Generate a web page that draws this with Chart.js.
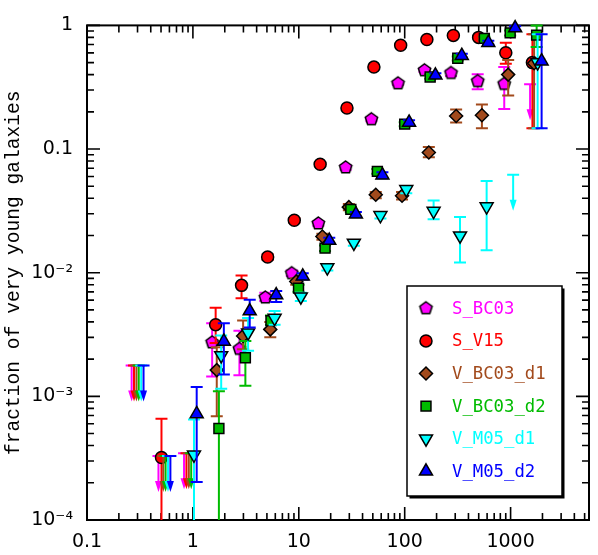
<!DOCTYPE html>
<html>
<head>
<meta charset="utf-8">
<script src="https://cdn.jsdelivr.net/npm/chart.js@4.4.1/dist/chart.umd.min.js"></script>
<style>
  html, body { margin: 0; padding: 0; background: #fff; }
  #wrap { width: 598px; height: 555px; }
</style>
</head>
<body>
<div id="wrap"><canvas id="chart" width="598" height="555"></canvas></div>
<script>
// Axis ticks
const xTickValues = [0.1, 1, 10, 100, 1000];
const xTickLabels = ['0.1', '1', '10', '100', '1000'];
const yTickValues = [1e-4, 1e-3, 1e-2, 0.1, 1];
const yTickLabels = ['10\u207B\u2074', '10\u207B\u00B3', '10\u207B\u00B2', '0.1', '1'];

const seriesNames = ['S_BC03', 'S_V15', 'V_BC03_d1', 'V_BC03_d2', 'V_M05_d1', 'V_M05_d2'];
const seriesColors = ['#ff00ff', '#ff0000', '#a24a1c', '#00bb00', '#00ffff', '#0000ff'];

// rows: [x, fraction, lower, upper]  (lower 0 = bar runs off the bottom)
const sBC03 = [
    [1.52, 2.73e-3, 1.45e-3, 3.9e-3], [2.75, 2.42e-3, 1.48e-3, 3.4e-3], [4.83, 6.3e-3, 5.9e-3, 6.9e-3],
    [8.59, 9.9e-3, 9.4e-3, 1.04e-2], [15.3, 0.025, 0.024, 0.026], [27.7, 0.071, 0.068, 0.074],
    [48.5, 0.174, 0.168, 0.18], [86.5, 0.34, 0.33, 0.35], [154, 0.433, 0.42, 0.45],
    [274, 0.412, 0.39, 0.43], [489, 0.354, 0.304, 0.403], [871, 0.336, 0.211, 0.46]
];
const sV15 = [
    [0.505, 3.2e-4, 0, 6.6e-4], [1.64, 3.8e-3, 2.7e-3, 5.2e-3], [2.88, 7.9e-3, 6.2e-3, 9.5e-3],
    [5.08, 0.0134, 0.0127, 0.0141], [9.06, 0.0266, 0.0255, 0.0277], [15.9, 0.0754, 0.073, 0.078],
    [28.5, 0.215, 0.21, 0.22], [51.2, 0.46, 0.45, 0.47], [91.6, 0.69, 0.68, 0.70],
    [162, 0.77, 0.76, 0.78], [288, 0.83, 0.82, 0.84], [499, 0.80, 0.78, 0.82],
    [901, 0.60, 0.49, 0.725], [1607, 0.50, 0.147, 0.85]
];
const vBC03d1 = [
    [1.68, 1.63e-3, 6.9e-4, 2.5e-3], [2.98, 3.08e-3, 2.4e-3, 4.1e-3], [5.38, 3.48e-3, 3.0e-3, 4.0e-3],
    [9.46, 8.5e-3, 8.0e-3, 9.0e-3], [16.7, 0.0196, 0.0185, 0.0207], [29.7, 0.0339, 0.032, 0.036],
    [53.3, 0.0427, 0.040, 0.045], [94.4, 0.0419, 0.039, 0.045], [169, 0.0938, 0.086, 0.104],
    [306, 0.185, 0.164, 0.209], [536, 0.1875, 0.147, 0.229], [949, 0.40, 0.271, 0.526],
    [1667, 0.494, 0.147, 0.85]
];
const vBC03d2 = [
    [1.76, 5.5e-4, 0, 1.1e-3], [3.13, 2.05e-3, 1.22e-3, 2.8e-3], [5.46, 4.1e-3, 3.8e-3, 4.5e-3],
    [9.94, 7.5e-3, 7.0e-3, 8.0e-3], [17.7, 0.0158, 0.015, 0.0166], [31, 0.0325, 0.031, 0.034],
    [55.2, 0.066, 0.063, 0.069], [100, 0.159, 0.153, 0.165], [174, 0.383, 0.37, 0.40],
    [317, 0.542, 0.52, 0.56], [565, 0.785, 0.76, 0.81], [991, 0.87, 0.83, 0.91],
    [1762, 0.834, 0.67, 1.0]
];
const vM05d1 = [
    [1.024, 3.37e-4, 0, 6.5e-4], [1.85, 2.14e-3, 1.15e-3, 3.1e-3], [3.32, 3.27e-3, 2.34e-3, 4.3e-3],
    [5.91, 4.3e-3, 3.8e-3, 4.9e-3], [10.45, 6.4e-3, 5.9e-3, 6.9e-3], [18.6, 0.011, 0.0104, 0.0116],
    [33.1, 0.0174, 0.0165, 0.0183], [59, 0.0291, 0.0275, 0.031], [103.5, 0.0472, 0.044, 0.050],
    [187.5, 0.0315, 0.027, 0.0383], [333, 0.0199, 0.0121, 0.0282], [594, 0.0343, 0.0152, 0.0551],
    [1800, 0.5, 0.147, 0.85]
];
const vM05d2 = [
    [1.086, 7.2e-4, 2.03e-4, 1.19e-3], [1.96, 2.78e-3, 1.5e-3, 3.9e-3], [3.44, 4.9e-3, 3.6e-3, 6.05e-3],
    [6.12, 6.6e-3, 5.8e-3, 7.1e-3], [10.9, 9.35e-3, 8.8e-3, 9.9e-3], [19.4, 0.0182, 0.0172, 0.0192],
    [34.6, 0.0297, 0.0283, 0.031], [61.6, 0.0614, 0.058, 0.065], [110, 0.164, 0.157, 0.171],
    [195, 0.395, 0.38, 0.41], [346, 0.569, 0.55, 0.59], [616, 0.725, 0.70, 0.75],
    [1104, 0.952, 0.92, 0.985], [1963, 0.513, 0.147, 0.85]
];

// upper limits: [x, limit]
const sBC03Lim = [[0.264, 1.78e-3], [0.473, 3.3e-4], [0.825, 3.47e-4], [1528, 0.335]];
const sV15Lim = [[0.278, 1.78e-3], [0.869, 3.47e-4]];
const vBC03d1Lim = [[0.293, 1.78e-3], [0.525, 3.3e-4], [0.915, 3.47e-4]];
const vBC03d2Lim = [[0.308, 1.78e-3], [0.552, 3.3e-4], [0.964, 3.47e-4]];
const vM05d1Lim = [[0.325, 1.78e-3], [0.582, 3.3e-4], [1057, 0.062]];
const vM05d2Lim = [[0.342, 1.78e-3], [0.613, 3.3e-4]];

const seriesRows = [sBC03, sV15, vBC03d1, vBC03d2, vM05d1, vM05d2];
const seriesLimits = [sBC03Lim, sV15Lim, vBC03d1Lim, vBC03d2Lim, vM05d1Lim, vM05d2Lim];

// pentagon marker (not built into Chart.js)
function pentagon(r, fill) {
    const c = document.createElement('canvas');
    const s = Math.ceil(2 * r + 4);
    c.width = s; c.height = s;
    const g = c.getContext('2d');
    g.beginPath();
    for (let i = 0; i < 5; i++) {
        const a = -Math.PI / 2 + i * 2 * Math.PI / 5;
        g.lineTo(s / 2 + r * Math.cos(a), s / 2 + r * Math.sin(a));
    }
    g.closePath();
    g.fillStyle = fill;
    g.fill();
    g.lineWidth = 1.5;
    g.strokeStyle = '#000';
    g.stroke();
    return c;
}

const markers = [
    { style: pentagon(6.5, seriesColors[0]), rotation: 0, radius: 6.5 },
    { style: 'circle', rotation: 0, radius: 6 },
    { style: 'rectRot', rotation: 0, radius: 6.5 },
    { style: 'rect', rotation: 0, radius: 7 },
    { style: 'triangle', rotation: 180, radius: 7.5 },
    { style: 'triangle', rotation: 0, radius: 7.5 }
];

// log ticks: majors + 2..9 minors
function logTicks(lo, hi, majors) {
    const out = [];
    for (let d = Math.floor(Math.log10(lo)); d <= Math.ceil(Math.log10(hi)); d++) {
        for (let m = 1; m <= 9; m++) {
            const v = m * Math.pow(10, d);
            if (v >= lo * 0.999 && v <= hi * 1.001) out.push({ value: v, major: m === 1 });
        }
    }
    return out;
}

function tickLabel(values, labels) {
    return function(value) {
        const i = values.findIndex(v => Math.abs(v - value) / v < 1e-6);
        return i >= 0 ? labels[i] : '';
    };
}

const X_MIN = 0.1, X_MAX = 5500, Y_MIN = 1e-4, Y_MAX = 1;

// error bars and upper-limit arrows, drawn under each dataset's markers
const errorBars = {
    id: 'errorBars',
    beforeDatasetDraw(chart, args) {
        const i = args.index;
        const { ctx, chartArea: a, scales: { x, y } } = chart;
        ctx.save();
        ctx.beginPath();
        ctx.rect(a.left, a.top - 2, a.right - a.left, a.bottom - a.top + 2);
        ctx.clip();
        ctx.strokeStyle = seriesColors[i];
        ctx.fillStyle = seriesColors[i];
        ctx.lineWidth = 2;
        seriesRows[i].forEach(r => {
            const px = x.getPixelForValue(r[0]);
            const hi = y.getPixelForValue(r[3]);
            const lo = r[2] > 0 ? y.getPixelForValue(r[2]) : a.bottom + 5;
            ctx.beginPath();
            ctx.moveTo(px, lo);
            ctx.lineTo(px, hi);
            ctx.moveTo(px - 6, hi);
            ctx.lineTo(px + 6, hi);
            if (r[2] > 0) {
                ctx.moveTo(px - 6, lo);
                ctx.lineTo(px + 6, lo);
            }
            ctx.stroke();
        });
        seriesLimits[i].forEach(l => {
            const px = x.getPixelForValue(l[0]);
            const top = y.getPixelForValue(l[1]);
            const tip = top + 36;
            ctx.beginPath();
            ctx.moveTo(px - 6, top);
            ctx.lineTo(px + 6, top);
            ctx.moveTo(px, top);
            ctx.lineTo(px, tip - 6);
            ctx.stroke();
            ctx.beginPath();
            ctx.moveTo(px, tip);
            ctx.lineTo(px - 3.5, tip - 11);
            ctx.lineTo(px + 3.5, tip - 11);
            ctx.closePath();
            ctx.fill();
        });
        ctx.restore();
    }
};

// box with inward ticks on all sides
const frame = {
    id: 'frame',
    beforeDatasetsDraw(chart) {
        const { ctx, chartArea: a, scales: { x, y } } = chart;
        ctx.save();
        ctx.strokeStyle = '#000';
        ctx.lineWidth = 1.6;
        ctx.beginPath();
        x.ticks.forEach(t => {
            const px = x.getPixelForValue(t.value);
            const len = t.major ? 13 : 7;
            ctx.moveTo(px, a.bottom);
            ctx.lineTo(px, a.bottom - len);
            ctx.moveTo(px, a.top);
            ctx.lineTo(px, a.top + len);
        });
        y.ticks.forEach(t => {
            const py = y.getPixelForValue(t.value);
            const len = t.major ? 13 : 7;
            ctx.moveTo(a.left, py);
            ctx.lineTo(a.left + len, py);
            ctx.moveTo(a.right, py);
            ctx.lineTo(a.right - len, py);
        });
        ctx.stroke();
        ctx.lineWidth = 2;
        ctx.strokeRect(a.left, a.top, a.right - a.left, a.bottom - a.top);
        ctx.restore();
    }
};

// legend box inside the plot
const boxLegend = {
    id: 'boxLegend',
    afterDraw(chart) {
        const ctx = chart.ctx;
        const bx = 407, by = 286, bw = 155, bh = 210;
        ctx.save();
        ctx.fillStyle = '#000';
        ctx.fillRect(bx + 2.5, by + 2.5, bw, bh);
        ctx.fillStyle = '#fff';
        ctx.fillRect(bx, by, bw, bh);
        ctx.lineWidth = 1.5;
        ctx.strokeStyle = '#000';
        ctx.strokeRect(bx, by, bw, bh);
        ctx.font = '17.3px "DejaVu Sans Mono", monospace';
        ctx.textBaseline = 'middle';
        seriesNames.forEach((name, i) => {
            const ry = by + 22.3 + i * 32.6;
            const m = markers[i];
            ctx.fillStyle = seriesColors[i];
            ctx.strokeStyle = '#000';
            ctx.lineWidth = 1.5;
            Chart.helpers.drawPoint(ctx, {
                pointStyle: m.style, rotation: m.rotation, radius: m.radius, borderWidth: 1.5
            }, bx + 19, ry);
            ctx.fillStyle = seriesColors[i];
            ctx.fillText(name, bx + 45, ry + 1);
        });
        ctx.restore();
    }
};

const datasets = seriesNames.map((name, i) => ({
    label: name,
    data: seriesRows[i].map(r => ({ x: r[0], y: r[1] })),
    pointStyle: markers[i].style,
    pointRotation: markers[i].rotation,
    pointRadius: markers[i].radius,
    pointBackgroundColor: seriesColors[i],
    pointBorderColor: '#000',
    pointBorderWidth: 1.5,
    showLine: false,
    clip: false,
    order: seriesNames.length - 1 - i
}));

const tickFont = { family: '"DejaVu Sans", sans-serif', size: 19 };

new Chart(document.getElementById('chart'), {
    type: 'scatter',
    data: { datasets },
    plugins: [frame, errorBars, boxLegend],
    options: {
        responsive: false,
        animation: false,
        events: [],
        layout: { padding: { left: 0, right: 6, top: 14, bottom: 0 } },
        plugins: { legend: { display: false }, tooltip: { enabled: false } },
        scales: {
            x: {
                type: 'logarithmic',
                min: X_MIN,
                max: X_MAX,
                grid: { display: false, drawTicks: false },
                border: { display: false },
                afterBuildTicks: s => { s.ticks = logTicks(X_MIN, X_MAX, xTickValues); },
                afterFit: s => { s.height = 35; },
                ticks: {
                    autoSkip: false,
                    maxRotation: 0,
                    padding: 11,
                    color: '#000',
                    font: tickFont,
                    callback: tickLabel(xTickValues, xTickLabels)
                }
            },
            y: {
                type: 'logarithmic',
                min: Y_MIN,
                max: Y_MAX,
                grid: { display: false, drawTicks: false },
                border: { display: false },
                afterBuildTicks: s => { s.ticks = logTicks(Y_MIN, Y_MAX, yTickValues); },
                afterFit: s => { s.width = 87; },
                ticks: {
                    autoSkip: false,
                    padding: 14,
                    color: '#000',
                    font: tickFont,
                    callback: tickLabel(yTickValues, yTickLabels)
                },
                title: {
                    display: true,
                    text: 'fraction of very young galaxies',
                    color: '#000',
                    font: { family: '"Liberation Mono", monospace', size: 19.6 },
                    padding: { top: 2, bottom: 0 }
                }
            }
        }
    }
});
</script>
</body>
</html>
